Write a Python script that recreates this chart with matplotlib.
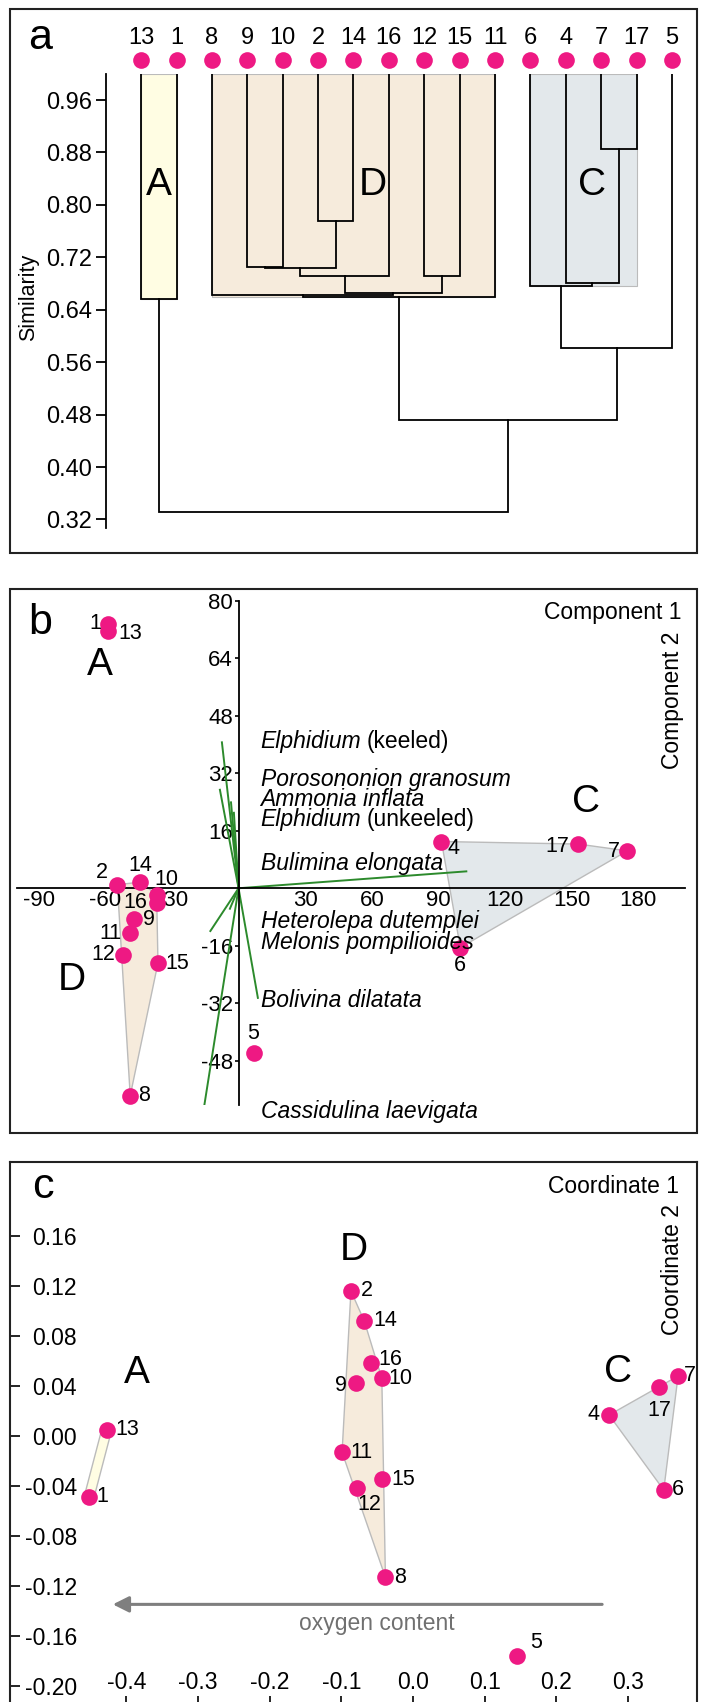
import matplotlib
matplotlib.use('Agg')
import matplotlib.pyplot as plt
from matplotlib.patches import Rectangle, Polygon
import matplotlib.patheffects as pe
import numpy as np

W, H = 701, 1702
plt.rcParams['font.family'] = ['Liberation Sans', 'DejaVu Sans']
plt.rcParams['axes.unicode_minus'] = False

# ---------------- data: panel a (cluster dendrogram) ----------------
leaf_order = ['13', '1', '8', '9', '10', '2', '14', '16', '12', '15', '11', '6', '4', '7', '17', '5']
merge_left = ['13', '7', '2', '9', 'm3', 'm4', '12', 'm5', '8', 'm8', '4', '6', 'm11', 'm9', 'm0']
merge_right = ['1', '17', '14', '10', 'm2', '16', '15', 'm6', 'm7', '11', 'm1', 'm10', '5', 'm12', 'm13']
merge_height = [0.657, 0.885, 0.776, 0.705, 0.704, 0.692, 0.692, 0.666, 0.663, 0.660,
                0.681, 0.676, 0.581, 0.472, 0.331]
group_names = ['A', 'D', 'C']
group_first_leaf = ['13', '8', '6']
group_last_leaf = ['1', '11', '17']
group_floor = [0.657, 0.660, 0.676]
sim_ticks = [0.32, 0.40, 0.48, 0.56, 0.64, 0.72, 0.80, 0.88, 0.96]

# ---------------- data: panel b (PCA biplot) ----------------
pca_labels = ['1', '13', '2', '14', '10', '16', '9', '11', '12', '15', '8', '5', '4', '17', '7', '6']
pca_x = [-59.0, -58.6, -54.6, -44.2, -36.9, -36.9, -47.0, -49.0, -51.9, -36.3, -48.8,
         7.0, 91.4, 153.0, 175.1, 99.9]
pca_y = [73.5, 71.5, 1.0, 1.7, -1.8, -4.1, -8.6, -12.5, -18.5, -20.8, -57.7,
         -45.7, 13.0, 12.3, 10.4, -16.5]
pca_group = ['A', 'A', 'D', 'D', 'D', 'D', 'D', 'D', 'D', 'D', 'D', '-', 'C', 'C', 'C', 'C']
species_italic = ['Elphidium', 'Porosononion granosum', 'Ammonia inflata', 'Elphidium',
                  'Bulimina elongata', 'Heterolepa dutemplei', 'Melonis pompilioides',
                  'Bolivina dilatata', 'Cassidulina laevigata']
species_plain = ['(keeled)', '', '', '(unkeeled)', '', '', '', '', '']
load_x = [-7.5, -8.4, -3.4, -2.1, 102.6, -12.7, -3.9, 8.7, -15.4]
load_y = [40.6, 27.4, 23.9, 21.0, 4.7, -11.9, -5.7, -30.5, -60.3]
species_label_y = [40.9, 30.2, 24.6, 19.1, 7.0, -9.3, -15.0, -31.1, -62.0]
pca_xticks = [-90, -60, -30, 30, 60, 90, 120, 150, 180]
pca_yticks = [-48, -32, -16, 16, 32, 48, 64, 80]

# ---------------- data: panel c (PCoA) ----------------
pco_labels = ['13', '1', '2', '14', '16', '10', '9', '11', '15', '12', '8', '5', '4', '17', '7', '6']
pco_x = [-0.4275, -0.452, -0.0866, -0.068, -0.0585, -0.0435, -0.079, -0.099, -0.043, -0.078, -0.0385,
         0.1457, 0.2737, 0.344, 0.370, 0.350]
pco_y = [0.005, -0.0486, 0.116, 0.092, 0.0587, 0.0461, 0.042, -0.013, -0.0347, -0.0413, -0.113,
         -0.176, 0.0168, 0.039, 0.048, -0.0432]
pco_group = ['A', 'A', 'D', 'D', 'D', 'D', 'D', 'D', 'D', 'D', 'D', '-', 'C', 'C', 'C', 'C']
pco_xticks = [-0.4, -0.3, -0.2, -0.1, 0.0, 0.1, 0.2, 0.3]
pco_yticks = [-0.20, -0.16, -0.12, -0.08, -0.04, 0.00, 0.04, 0.08, 0.12, 0.16]

# ---------------- style ----------------
PINK = '#EE1983'
GREEN = '#2C8A2C'
FILL = {'A': '#FFFDE3', 'D': '#F6EBDC', 'C': '#E3E8EB'}
EDGE = '#BBBBBB'
BOX = '#222222'
MS = 12

fig = plt.figure(figsize=(W / 100, H / 100), dpi=100)
fig.patch.set_facecolor('white')


def add_axes_px(l, t, r, b):
    return fig.add_axes([l / W, 1 - b / H, (r - l) / W, (b - t) / H])


def fig_box(l, t, r, b):
    fig.add_artist(Rectangle((l / W, 1 - b / H), (r - l) / W, (b - t) / H,
                             transform=fig.transFigure, fill=False, lw=1.5, ec=BOX))


def fig_text(x, y, s, **kw):
    fig.text(x / W, 1 - y / H, s, **kw)


def convex_hull(pts):
    pts = sorted(set(pts))
    if len(pts) <= 2:
        return pts

    def cross(o, a, b):
        return (a[0] - o[0]) * (b[1] - o[1]) - (a[1] - o[1]) * (b[0] - o[0])
    lower, upper = [], []
    for p in pts:
        while len(lower) >= 2 and cross(lower[-2], lower[-1], p) <= 0:
            lower.pop()
        lower.append(p)
    for p in reversed(pts):
        while len(upper) >= 2 and cross(upper[-2], upper[-1], p) <= 0:
            upper.pop()
        upper.append(p)
    return lower[:-1] + upper[:-1]


def draw_hulls(ax, xs, ys, groups):
    for g in ['A', 'D', 'C']:
        pts = [(x, y) for x, y, gg in zip(xs, ys, groups) if gg == g]
        hull = convex_hull(pts)
        if len(hull) >= 3:
            ax.add_patch(Polygon(hull, closed=True, fc=FILL[g], ec=EDGE, lw=1.0, zorder=1))
        else:
            hx = [p[0] for p in hull]
            hy = [p[1] for p in hull]
            ax.plot(hx, hy, color=FILL[g], lw=6, solid_capstyle='butt', zorder=1,
                    path_effects=[pe.Stroke(linewidth=8, foreground=EDGE), pe.Normal()])


def label_points(ax, xs, ys, labels, offsets, fs=15):
    for x, y, lab in zip(xs, ys, labels):
        dx, dy = offsets.get(lab, (14, 0))
        ax.annotate(lab, (x, y), xytext=(dx * 0.72, dy * 0.72), textcoords='offset points',
                    ha='center', va='center', fontsize=fs, zorder=5)


# ================= panel a =================
fig_box(10, 9.3, 696.7, 553)
axA = add_axes_px(106, 73.8, 696.7, 528)
axA.set_xlim(-0.994, 15.7)
axA.set_ylim(0.307, 1.0)
for s in ['top', 'right', 'bottom']:
    axA.spines[s].set_visible(False)
axA.spines['left'].set_linewidth(1.3)
axA.set_xticks([])
axA.set_yticks(sim_ticks)
axA.set_yticklabels(['%.2f' % v for v in sim_ticks])
axA.tick_params(axis='y', direction='out', length=7.2, width=1.3, pad=3, labelsize=17)
axA.patch.set_alpha(0)

pos = {lab: i for i, lab in enumerate(leaf_order)}
hgt = {lab: 1.0 for lab in leaf_order}
for k, (l, r, h) in enumerate(zip(merge_left, merge_right, merge_height)):
    xl, xr = pos[l], pos[r]
    axA.plot([xl, xl, xr, xr], [hgt[l], h, h, hgt[r]], color='black', lw=1.3,
             solid_joinstyle='miter', zorder=2)
    pos['m%d' % k] = (xl + xr) / 2
    hgt['m%d' % k] = h

for g, first, last, floor in zip(group_names, group_first_leaf, group_last_leaf, group_floor):
    axA.add_patch(Rectangle((pos[first], floor), pos[last] - pos[first], 1.0 - floor,
                            fc=FILL[g], ec=EDGE, lw=0.8, zorder=1))

group_letter_x_a = {'A': 0.5, 'D': 6.55, 'C': 12.75}
for g in group_names:
    axA.text(group_letter_x_a[g], 0.83, g, fontsize=28, ha='center', va='center', zorder=4)

n = len(leaf_order)
tr = axA.get_xaxis_transform()
axA.plot(np.arange(n), np.full(n, 1.0304), 'o', color=PINK, ms=MS, mew=0,
         transform=tr, clip_on=False, zorder=5)
for i, lab in enumerate(leaf_order):
    axA.text(i, 1.0788, lab, transform=tr, ha='center', va='center', fontsize=17, clip_on=False)

fig_text(40, 38, 'a', fontsize=31, ha='center', va='center')
fig_text(29, 297, 'Similarity', fontsize=15.5, rotation=90, ha='center', va='center')

# ================= panel b =================
fig_box(10, 589.3, 696.7, 1133.3)
axB = add_axes_px(17, 600.7, 685, 1105)
axB.set_xlim(-99.8, 201.1)
axB.set_ylim(-60.3, 80)
axB.patch.set_alpha(0)
for s in ['top', 'right']:
    axB.spines[s].set_visible(False)
axB.spines['left'].set_position(('data', 0))
axB.spines['bottom'].set_position(('data', 0))
axB.spines['left'].set_linewidth(1.3)
axB.spines['bottom'].set_linewidth(1.3)
axB.set_xticks(pca_xticks)
axB.set_xticklabels([str(v) for v in pca_xticks])
axB.set_yticks(pca_yticks)
axB.set_yticklabels([str(v) for v in pca_yticks])
axB.tick_params(axis='x', length=0, pad=1.5, labelsize=16)
axB.tick_params(axis='y', direction='out', length=3, width=1.2, pad=1, labelsize=16)

draw_hulls(axB, pca_x, pca_y, pca_group)
for lx, ly in zip(load_x, load_y):
    axB.plot([0, lx], [0, ly], color=GREEN, lw=1.4, zorder=2)
for it, pl, yl in zip(species_italic, species_plain, species_label_y):
    t = axB.text(9.9, yl, it, style='italic', fontsize=16.5, ha='left', va='center', zorder=4)
    if pl:
        axB.annotate(pl, xy=(1, 0), xycoords=t, xytext=(4, 0), textcoords='offset points',
                     ha='left', va='bottom', fontsize=16.5)
axB.plot(pca_x, pca_y, 'o', color=PINK, ms=MS, mew=0, zorder=3, clip_on=False)
pca_offsets = {'1': (-12, 1), '13': (22, -2), '2': (-15, 12), '14': (0, 17), '10': (10, 15),
               '16': (-21, 0), '9': (15, 0), '11': (-19, 0), '12': (-20, 0), '15': (19, 0),
               '8': (14, 0), '5': (-1, 19), '4': (12, -7), '17': (-21, -2), '7': (-13, -1),
               '6': (0, -18)}
label_points(axB, pca_x, pca_y, pca_labels, pca_offsets, fs=15.5)
group_letter_b = {'A': (-62.7, 62), 'D': (-75.2, -25.5), 'C': (156.4, 23.9)}
for g, (gx, gy) in group_letter_b.items():
    axB.text(gx, gy, g, fontsize=28, ha='center', va='center', zorder=4)

fig_text(40, 623, 'b', fontsize=31, ha='center', va='center')
fig_text(681.7, 613, 'Component 1', fontsize=16.5, ha='right', va='center')
fig_text(672.8, 700, 'Component 2', fontsize=16.5, rotation=90, ha='center', va='center')

# ================= panel c =================
axC = add_axes_px(10, 1162, 696.7, 1706)
axC.set_xlim(-0.5625, 0.396)
axC.set_ylim(-0.216, 0.2192)
axC.spines['bottom'].set_visible(False)
for s in ['left', 'top', 'right']:
    axC.spines[s].set_linewidth(1.5)
    axC.spines[s].set_color(BOX)
axC.set_xticks(pco_xticks)
axC.set_xticklabels(['%.1f' % v for v in pco_xticks])
axC.set_yticks(pco_yticks)
axC.set_yticklabels(['%.2f' % v for v in pco_yticks])
axC.tick_params(axis='y', direction='in', length=7.2, width=1.2, pad=-48.2, labelsize=16.5)
axC.tick_params(axis='x', direction='in', length=7.2, width=1.2, pad=-25, labelsize=16.5)

draw_hulls(axC, pco_x, pco_y, pco_group)
axC.plot(pco_x, pco_y, 'o', color=PINK, ms=MS, mew=0, zorder=3)
pco_offsets = {'13': (21, 0), '1': (13, 0), '2': (16, 0), '14': (21, 0), '16': (19, 3),
               '10': (19, 0), '9': (-15, -2), '11': (19, 0), '15': (21, 0), '12': (12, -17),
               '8': (15, 0), '5': (19, 13), '4': (-16, 0), '17': (0, -23), '7': (12, 0),
               '6': (14, 0)}
label_points(axC, pco_x, pco_y, pco_labels, pco_offsets, fs=15.5)
group_letter_c = {'A': (-0.385, 0.050), 'D': (-0.082, 0.149), 'C': (0.286, 0.051)}
for g, (gx, gy) in group_letter_c.items():
    axC.text(gx, gy, g, fontsize=28, ha='center', va='center', zorder=4)

axC.annotate('', xy=(-0.419, -0.1347), xytext=(0.264, -0.1347),
             arrowprops=dict(arrowstyle='-|>', color='#7f7f7f', lw=2.2, mutation_scale=24,
                             shrinkA=0, shrinkB=0))
axC.text(-0.051, -0.150, 'oxygen content', color='#707070', fontsize=16.5, ha='center', va='center')

fig_text(42.5, 1186.7, 'c', fontsize=31, ha='center', va='center')
fig_text(679.5, 1186.7, 'Coordinate 1', fontsize=16.5, ha='right', va='center')
fig_text(672.8, 1270, 'Coordinate 2', fontsize=16.5, rotation=90, ha='center', va='center')

fig.savefig('out.png', dpi=100, facecolor='white')
